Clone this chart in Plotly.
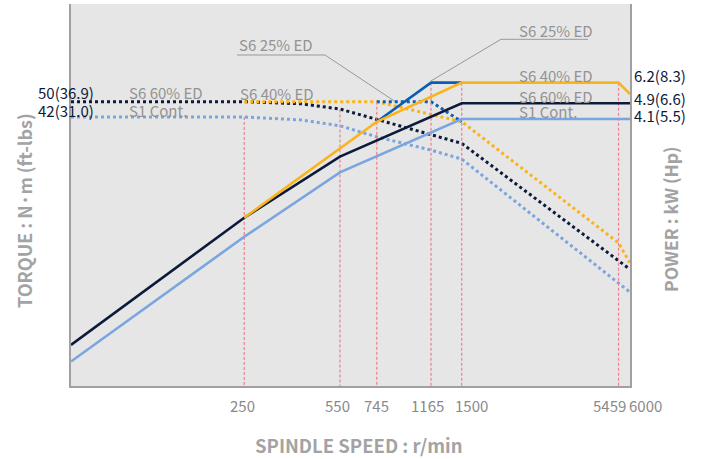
import math
import plotly.graph_objects as go

# ---------------- data ----------------
tick_rpm = [250, 550, 745, 1165, 1500, 5459, 6000]
tick_text = ["250", "550", "745", "1165", "1500", "5459", "6000"]
tick_shift = [-2, -2, 0, -4, 10, -9, 15]

# S1 Cont.
s1_pw_rpm = [60, 250, 550, 1500, 6000]
s1_pw_kw = [0.258, 1.07, 2.23, 4.1, 4.1]
s1_tq_rpm = [60, 250, 400, 550, 745, 1165, 1500, 6000]
s1_tq_nm = [42, 42, 40.6, 38.0, 33.5, 28.8, 26.0, 5.7]

# S6 60% ED
s660_pw_rpm = [60, 250, 550, 1500, 6000]
s660_pw_kw = [0.312, 1.33, 2.67, 4.9, 4.9]
s660_tq_rpm = [60, 250, 400, 550, 1500, 6000]
s660_tq_nm = [50, 50, 48.8, 46.0, 31.1, 7.4]

# S6 40% ED
s640_pw_rpm = [250, 550, 745, 1500, 5459, 6000]
s640_pw_kw = [1.33, 2.93, 3.97, 6.2, 6.2, 5.45]
s640_tq_rpm = [250, 745, 1500, 5459, 6000]
s640_tq_nm = [50, 50, 39.8, 10.0, 7.95]

# S6 25% ED
s625_pw_rpm = [745, 1165, 1500]
s625_pw_kw = [3.97, 6.2, 6.2]
s625_tq_rpm = [745, 1165, 1500]
s625_tq_nm = [50, 50, 39.8]

# red reference lines (rpm, top in kW)
ref_rpm = [250, 550, 745, 1165, 1500, 5459]
ref_top_kw = [4.19, 4.57, 4.99, 6.2, 6.2, 6.2]

# ---------------- styling ----------------
NAVY = "#0c1a3b"
ORANGE = "#fbb31a"
LBLUE = "#7aa5de"
BLUE = "#0b5fb0"
RED = "#ef7f8e"
GRAY_TXT = "#939393"
FONT = "Noto Sans CJK KR"

fig = go.Figure()

# reference lines
rx, ry = [], []
for r, t in zip(ref_rpm, ref_top_kw):
    rx += [r, r, None]
    ry += [t, 0.1, None]
fig.add_trace(go.Scatter(x=rx, y=ry, yaxis="y2", mode="lines",
                         line=dict(color=RED, width=1.2, dash="3px,2px"),
                         hoverinfo="skip", showlegend=False))

def solid(x, y, c):
    fig.add_trace(go.Scatter(x=x, y=y, yaxis="y2", mode="lines",
                             line=dict(color=c, width=2.6), showlegend=False))

def dotted(x, y, c):
    fig.add_trace(go.Scatter(x=x, y=y, yaxis="y", mode="lines",
                             line=dict(color=c, width=3, dash="dot"), showlegend=False))

dotted(s1_tq_rpm, s1_tq_nm, LBLUE)
solid(s1_pw_rpm, s1_pw_kw, LBLUE)
dotted(s660_tq_rpm, s660_tq_nm, NAVY)
solid(s660_pw_rpm, s660_pw_kw, NAVY)
dotted(s640_tq_rpm, s640_tq_nm, ORANGE)
dotted(s625_tq_rpm, s625_tq_nm, BLUE)
solid(s625_pw_rpm, s625_pw_kw, BLUE)
solid(s640_pw_rpm, s640_pw_kw, ORANGE)

L, R, T, B = 71, 71, 4, 73
W, H = 701, 459
PW, PH = W - L - R, H - T - B

def px(x):
    return (x - L) / PW

def py(y):
    return (H - B - y) / PH

ann = []
def text(s, x, y, xa="left", color=GRAY_TXT, size=15, bold=False, angle=0):
    ann.append(dict(text=("<b>%s</b>" % s) if bold else s, x=x, y=y,
                    xref="paper", yref="paper", xanchor=xa, yanchor="middle",
                    showarrow=False, textangle=angle,
                    font=dict(family=FONT, size=size, color=color)))

# curve labels
text("S6 60% ED", px(127), py(92))
text("S1 Cont.", px(127), py(110))
text("S6 25% ED", px(237), py(45))
text("S6 40% ED", px(238), py(94))
text("S6 25% ED", px(517), py(31))
text("S6 40% ED", px(517), py(75))
text("S6 60% ED", px(517), py(96))
text("S1 Cont.", px(517), py(112))

# values
text("50(36.9)", px(96), py(92), xa="right", color=NAVY)
text("42(31.0)", px(96), py(110), xa="right", color=NAVY)
text("6.2(8.3)", px(632), py(75), color=NAVY)
text("4.9(6.6)", px(632), py(99), color=NAVY)
text("4.1(5.5)", px(632), py(115), color=NAVY)

# axis titles
text("SPINDLE SPEED : r/min", px(359), py(445), xa="center", color="#a3a3a3", size=18.5, bold=True)
text("TORQUE : N·m (ft-lbs)", px(24), py(211), xa="center", color="#a3a3a3", size=18, bold=True, angle=-90)
text("POWER : kW (Hp)", px(670), py(219), xa="center", color="#a3a3a3", size=17.5, bold=True, angle=-90)

# tick labels
for v, t, s in zip(tick_rpm, tick_text, tick_shift):
    ann.append(dict(text=t, x=math.log10(v), y=py(405), xref="x", yref="paper",
                    xanchor="center", yanchor="middle", xshift=s, showarrow=False,
                    font=dict(family=FONT, size=15, color="#8a8a8a")))

# leader lines
shapes = []
def seg(x0, y0, x1, y1):
    shapes.append(dict(type="line", xref="paper", yref="paper",
                       x0=px(x0), y0=py(y0), x1=px(x1), y1=py(y1),
                       line=dict(color="#999999", width=1)))
seg(237, 55, 325, 55)
seg(325, 55, 395, 101.5)
seg(501, 39.3, 588, 39.3)
seg(501, 39.3, 430, 81.5)

fig.update_layout(
    width=W, height=H,
    margin=dict(l=L, r=R, t=T, b=B),
    paper_bgcolor="white", plot_bgcolor="#e6e6e6",
    showlegend=False,
    annotations=ann, shapes=shapes,
    xaxis=dict(type="log", range=[math.log10(60), math.log10(6000)],
               showgrid=False, zeroline=False, showticklabels=False, ticks="",
               showline=True, linecolor="#a0a0a0", linewidth=2),
    yaxis=dict(type="log", range=[0.2915, 2.1826], showgrid=False, zeroline=False,
               showticklabels=False, ticks="", showline=True, linecolor="#a0a0a0", linewidth=2),
    yaxis2=dict(type="log", range=[-0.7093, 1.1818], overlaying="y", side="right",
                showgrid=False, zeroline=False, showticklabels=False, ticks="",
                showline=True, linecolor="#a0a0a0", linewidth=2),
)

fig.write_html("out.html", config={"displayModeBar": False},
               post_script="document.body.style.margin='0';document.body.style.overflow='hidden';")
